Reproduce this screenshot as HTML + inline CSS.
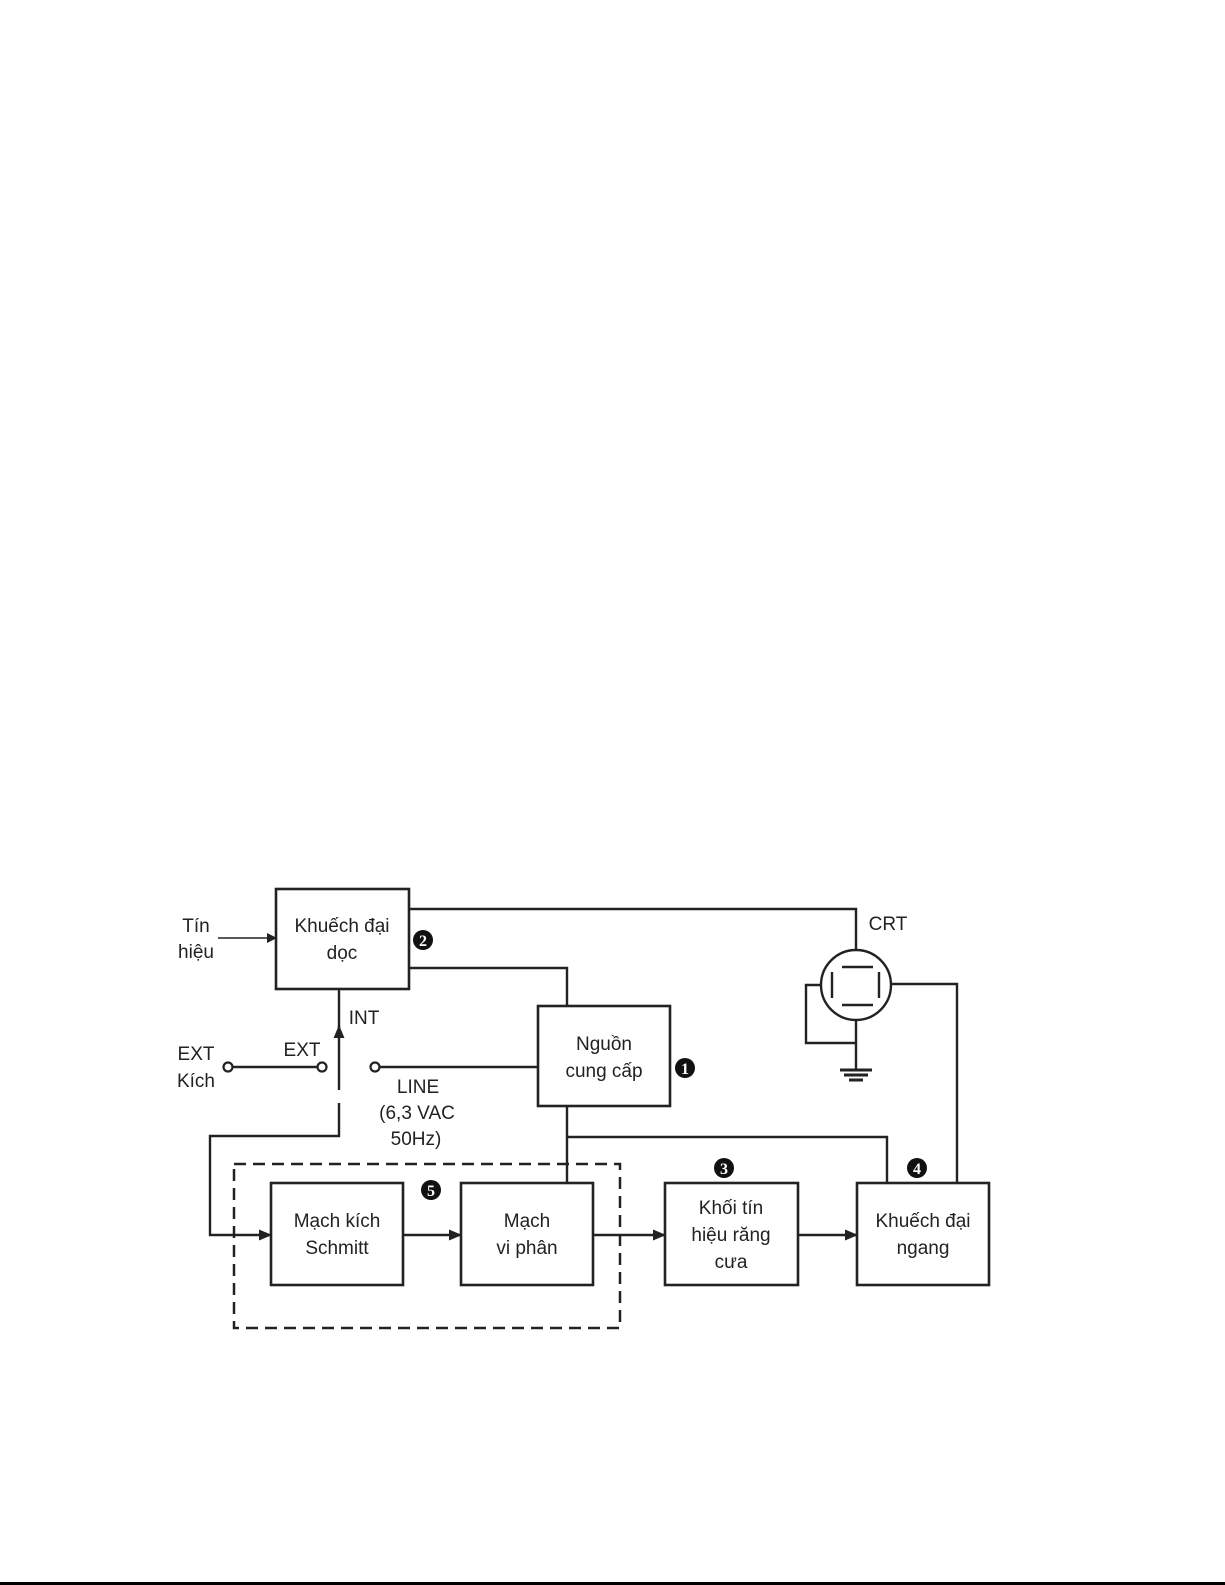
<!DOCTYPE html>
<html><head><meta charset="utf-8"><style>
html,body{margin:0;padding:0;background:#fff;}
svg{display:block}
text{font-family:"Liberation Sans",sans-serif;font-size:19px;fill:#222}
.b{fill:none;stroke:#222;stroke-width:2.6}
.l{fill:none;stroke:#222;stroke-width:2.4}
.n{font-family:"Liberation Serif",serif;font-weight:bold;font-size:16px;fill:#fff}
</style></head><body>
<svg width="1225" height="1585" viewBox="0 0 1225 1585" xmlns="http://www.w3.org/2000/svg">
<defs><marker id="a" markerWidth="10" markerHeight="10" refX="9" refY="5" orient="auto" markerUnits="userSpaceOnUse"><path d="M0,0 L10,5 L0,10 z" fill="#222"/></marker>
<marker id="s" markerWidth="13" markerHeight="11" refX="12" refY="5.5" orient="auto" markerUnits="userSpaceOnUse"><path d="M0,0 L13,5.5 L0,11 z" fill="#222"/></marker></defs>
<rect x="0" y="1582" width="1225" height="3" fill="#000"/>
<!-- boxes -->
<rect class="b" x="276" y="889" width="133" height="100"/>
<rect class="b" x="538" y="1006" width="132" height="100"/>
<rect class="b" x="271" y="1183" width="132" height="102"/>
<rect class="b" x="461" y="1183" width="132" height="102"/>
<rect class="b" x="665" y="1183" width="133" height="102"/>
<rect class="b" x="857" y="1183" width="132" height="102"/>
<rect x="234" y="1164" width="386" height="164" fill="none" stroke="#222" stroke-width="2.5" stroke-dasharray="12,7"/>
<!-- text -->
<text x="342" y="932" text-anchor="middle">Khuếch đại</text>
<text x="342" y="959" text-anchor="middle">dọc</text>
<text x="604" y="1050" text-anchor="middle">Nguồn</text>
<text x="604" y="1077" text-anchor="middle">cung cấp</text>
<text x="337" y="1227" text-anchor="middle">Mạch kích</text>
<text x="337" y="1254" text-anchor="middle">Schmitt</text>
<text x="527" y="1227" text-anchor="middle">Mạch</text>
<text x="527" y="1254" text-anchor="middle">vi phân</text>
<text x="731" y="1214" text-anchor="middle">Khối tín</text>
<text x="731" y="1241" text-anchor="middle">hiệu răng</text>
<text x="731" y="1268" text-anchor="middle">cưa</text>
<text x="923" y="1227" text-anchor="middle">Khuếch đại</text>
<text x="923" y="1254" text-anchor="middle">ngang</text>
<text x="196" y="932" text-anchor="middle">Tín</text>
<text x="196" y="958" text-anchor="middle">hiệu</text>
<text x="196" y="1060" text-anchor="middle">EXT</text>
<text x="196" y="1087" text-anchor="middle">Kích</text>
<text x="302" y="1056" text-anchor="middle">EXT</text>
<text x="364" y="1024" text-anchor="middle">INT</text>
<text x="418" y="1093" text-anchor="middle">LINE</text>
<text x="417" y="1119" text-anchor="middle">(6,3 VAC</text>
<text x="416" y="1145" text-anchor="middle">50Hz)</text>
<text x="888" y="930" text-anchor="middle">CRT</text>
<!-- badges -->
<g><circle cx="423" cy="940" r="10" fill="#111"/><text class="n" x="423" y="946" text-anchor="middle">2</text></g>
<g><circle cx="685" cy="1068" r="10" fill="#111"/><text class="n" x="685" y="1074" text-anchor="middle">1</text></g>
<g><circle cx="724" cy="1168" r="10" fill="#111"/><text class="n" x="724" y="1174" text-anchor="middle">3</text></g>
<g><circle cx="917" cy="1168" r="10" fill="#111"/><text class="n" x="917" y="1174" text-anchor="middle">4</text></g>
<g><circle cx="431" cy="1190" r="10" fill="#111"/><text class="n" x="431" y="1196" text-anchor="middle">5</text></g>
<!-- wires -->
<line class="l" x1="218" y1="938" x2="276" y2="938" marker-end="url(#a)" style="stroke-width:1.6"/>
<polyline class="l" points="409,909 856,909 856,950"/>
<polyline class="l" points="409,968 567,968 567,1006"/>
<line class="l" x1="339" y1="1090" x2="339" y2="1026" marker-end="url(#s)"/>
<line class="l" x1="339" y1="989" x2="339" y2="1030"/>
<polyline class="l" points="339,1103 339,1136 210,1136 210,1235 271,1235" marker-end="url(#s)"/>
<line class="l" x1="233" y1="1067" x2="318" y2="1067"/>
<circle cx="228" cy="1067" r="4.5" fill="#fff" stroke="#222" stroke-width="2.2"/>
<circle cx="322" cy="1067" r="4.5" fill="#fff" stroke="#222" stroke-width="2.2"/>
<line class="l" x1="379" y1="1067" x2="538" y2="1067"/>
<circle cx="375" cy="1067" r="4.5" fill="#fff" stroke="#222" stroke-width="2.2"/>
<line class="l" x1="567" y1="1106" x2="567" y2="1183"/>
<polyline class="l" points="567,1137 887,1137 887,1183"/>
<line class="l" x1="403" y1="1235" x2="461" y2="1235" marker-end="url(#s)"/>
<line class="l" x1="593" y1="1235" x2="665" y2="1235" marker-end="url(#s)"/>
<line class="l" x1="798" y1="1235" x2="857" y2="1235" marker-end="url(#s)"/>
<!-- CRT -->
<circle cx="856" cy="985" r="35" fill="none" stroke="#222" stroke-width="2.4"/>
<line class="l" x1="842" y1="967" x2="873" y2="967"/>
<line class="l" x1="842" y1="1005" x2="873" y2="1005"/>
<line class="l" x1="832" y1="972" x2="832" y2="998"/>
<line class="l" x1="879" y1="972" x2="879" y2="998"/>
<polyline class="l" points="821,985 806,985 806,1043 856,1043"/>
<line class="l" x1="856" y1="1020" x2="856" y2="1070"/>
<polyline class="l" points="891,984 957,984 957,1183"/>
<line x1="840" y1="1070" x2="872" y2="1070" stroke="#222" stroke-width="3"/>
<line x1="844" y1="1075" x2="868" y2="1075" stroke="#222" stroke-width="3"/>
<line x1="849" y1="1080" x2="863" y2="1080" stroke="#222" stroke-width="3"/>
</svg>
</body></html>
